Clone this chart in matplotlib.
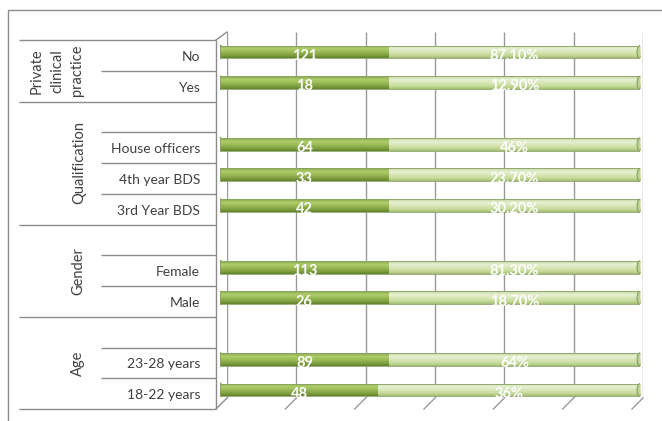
import numpy as np
import matplotlib
matplotlib.use("Agg")
import matplotlib.pyplot as plt
from matplotlib.lines import Line2D
from matplotlib.patches import Ellipse
from matplotlib.colors import LinearSegmentedColormap

plt.rcParams['font.family'] = ['Lato', 'DejaVu Sans']

# filas de arriba hacia abajo ("" = fila vacia del grafico original)
categories = ["No", "Yes", "", "House officers", "4th year BDS", "3rd Year BDS", "",
              "Female", "Male", "", "23-28 years", "18-22 years"]
counts = [121, 18, None, 64, 33, 42, None, 113, 26, None, 89, 48]
pct_labels = ["87.10%", "12.90%", None, "46%", "23.70%", "30.20%", None,
              "81.30%", "18.70%", None, "64%", "36%"]
# ancho del tramo oscuro (% de la barra) tal como se ve en la imagen
count_share = [40.2, 40.2, None, 40.2, 40.2, 40.2, None, 40.2, 40.2, None, 40.2, 37.6]

groups = ["Private\nclinical\npractice", "Qualification", "Gender", "Age"]
group_rows = [(0, 2), (2, 6), (6, 9), (9, 12)]

W, H = 662, 421
def fx(px):
    return px / W
def fy(py):
    return 1 - py / H

fig = plt.figure(figsize=(W / 100, H / 100), dpi=100)
line_col = "#8c8c8c"

def pline(xs, ys, **kw):
    fig.add_artist(Line2D([fx(x) for x in xs], [fy(y) for y in ys],
                          transform=fig.transFigure, color=kw.get("color", line_col),
                          lw=kw.get("lw", 1.0)))

# marco exterior
pline([8, 8, 662], [421, 10, 10])

# pared del fondo con lineas de division
ax_wall = fig.add_axes([fx(227), fy(398), fx(643) - fx(227), fy(32) - fy(398)])
ax_wall.set_xlim(0, 6)
ax_wall.set_ylim(0, 1)
ax_wall.axis("off")
ax_wall.vlines(np.arange(7), 0, 1, color="#9a9a9a", lw=1.0)
gx = 227 + np.arange(7) * 416 / 6
for x in gx[1:]:
    pline([x, x - 11], [398, 409], color="#9a9a9a")

# eje de categorias
ax_cat = fig.add_axes([fx(19), fy(409), fx(216) - fx(19), fy(40) - fy(409)])
ax_cat.set_xlim(0, 1)
ax_cat.set_ylim(12, 0)
ax_cat.axis("off")
full = [0] + [g[1] for g in group_rows]
sub = [r for r in range(1, 12) if r not in full]
ax_cat.hlines(full, 0, 1, color=line_col, lw=1.0, clip_on=False)
ax_cat.hlines(sub, 0.416, 1, color=line_col, lw=1.0, clip_on=False)
ax_cat.vlines(1, 0, 12, color=line_col, lw=1.0, clip_on=False)
for i, c in enumerate(categories):
    ax_cat.text(0.919, i + 0.55, c, ha="right", va="center", fontsize=10, color="#404040")
for g, (a, b), gxpos in zip(groups, group_rows, [0.193, 0.305, 0.30, 0.30]):
    ax_cat.text(gxpos, (a + b) / 2, g, rotation=90, ha="center", va="center",
                multialignment="center", fontsize=10.5, color="#404040", linespacing=1.55)
pline([216, 227], [40, 32])
pline([216, 227], [409, 398])

# barras
ax = fig.add_axes([fx(220), fy(405.4), fx(640) - fx(220), fy(36.6) - fy(405.4)])
ax.set_facecolor("none")
dark_cm = LinearSegmentedColormap.from_list("d", [(0, "#86a64a"), (0.25, "#b0cd6c"),
                                                  (0.5, "#9cbc58"), (0.8, "#7f9f40"),
                                                  (1, "#62822e")])
light_cm = LinearSegmentedColormap.from_list("l", [(0, "#c0d59a"), (0.25, "#e6f0d2"),
                                                   (0.5, "#d9e8bb"), (0.8, "#c4da98"),
                                                   (1, "#a2bc74")])
grad = np.linspace(0, 1, 64).reshape(-1, 1)
bh = 0.42
for i in range(len(categories)):
    if counts[i] is None:
        continue
    s = count_share[i]
    ax.add_patch(Ellipse((0, i), 1.4, bh, color="#759538", zorder=1))
    for left, w, cm in [(0, s, dark_cm), (s, 100 - s, light_cm)]:
        b = ax.barh(i, w, left=left, height=bh, color=cm(0.5), edgecolor="none", zorder=2)[0]
        im = ax.imshow(grad, cmap=cm, aspect="auto", origin="upper",
                       extent=(left, left + w, i + bh / 2, i - bh / 2), zorder=3)
        im.set_clip_path(b)
    ax.barh(i, 100, height=bh, fill=False, edgecolor="#89a266", lw=0.6, zorder=4)
    ax.add_patch(Ellipse((100, i), 1.4, bh, facecolor="#bdd395", edgecolor="#7f985a",
                         lw=0.7, zorder=4))
    ax.text(s / 2, i + 0.12, str(counts[i]), ha="center", va="center", color="white",
            fontsize=10.5, fontweight="bold", zorder=5)
    ax.text(s + (100 - s) / 2, i + 0.12, pct_labels[i], ha="center", va="center",
            color="white", fontsize=10.5, fontweight="bold", zorder=5)
ax.set_xlim(0, 100)
ax.set_ylim(11.5, -0.5)
ax.axis("off")

fig.savefig("out.png", dpi=100)
